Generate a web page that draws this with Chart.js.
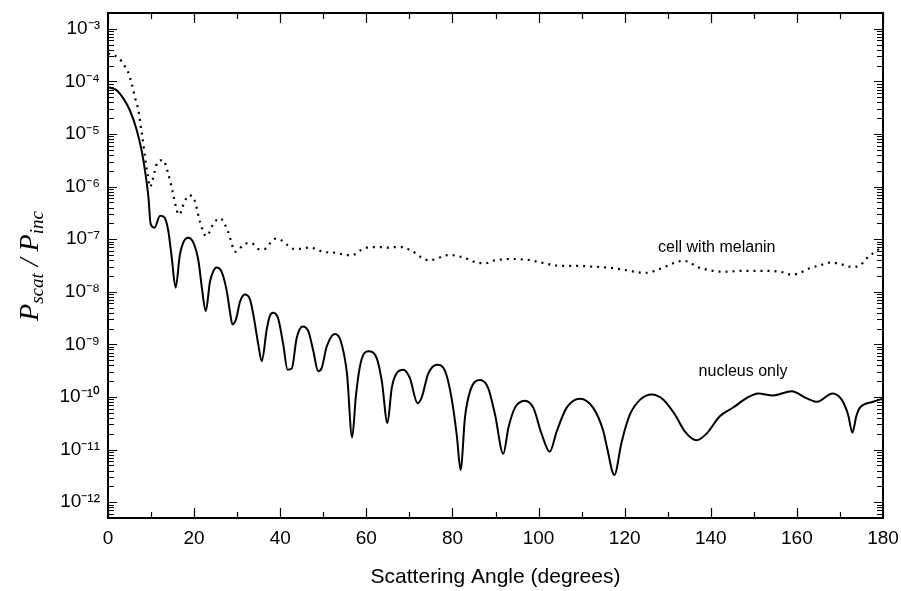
<!DOCTYPE html>
<html>
<head>
<meta charset="utf-8">
<script src="https://cdn.jsdelivr.net/npm/chart.js@4.4.1/dist/chart.umd.min.js"></script>
<style>
  html, body { margin: 0; padding: 0; background: #fff; }
  canvas { display: block; }
</style>
</head>
<body>
<canvas id="scatChart" width="901" height="591"></canvas>
<script>
// [angle (degrees), Pscat/Pinc]
const nucleusOnly = [
    [0, 7.8e-5], [1, 7.4e-5], [2, 6.8e-5], [3.6, 4.7e-5], [5.1, 2.8e-5], [6.7, 1.17e-5],
    [7.8, 4.9e-6], [8.6, 2.0e-6], [9.4, 6.2e-7], [9.9, 1.95e-7], [10.8, 1.66e-7],
    [12.1, 2.8e-7], [13.1, 2.6e-7], [14.0, 1.45e-7], [14.8, 4.5e-8], [15.7, 1.2e-8],
    [16.7, 5.1e-8], [17.5, 8.7e-8], [18.6, 1.07e-7], [19.8, 8.7e-8], [21.0, 3.9e-8],
    [21.8, 1.2e-8], [22.7, 4.3e-9], [23.7, 1.58e-8], [24.5, 2.5e-8], [25.2, 2.9e-8],
    [26.4, 2.4e-8], [27.6, 1.02e-8], [28.3, 4.3e-9], [28.9, 2.4e-9], [29.7, 2.95e-9],
    [30.7, 6.6e-9], [31.8, 8.9e-9], [33.0, 7.1e-9], [33.9, 3.16e-9], [34.9, 1.0e-9],
    [35.7, 4.8e-10], [36.9, 2.0e-9], [37.6, 3.5e-9], [38.4, 4.0e-9], [39.5, 3.16e-9],
    [40.7, 1.0e-9], [41.7, 3.3e-10], [42.7, 3.5e-10], [43.8, 1.3e-9], [45.2, 2.2e-9],
    [46.5, 1.8e-9], [47.7, 7.4e-10], [48.8, 3.1e-10], [49.6, 3.5e-10], [50.8, 9.1e-10],
    [52.7, 1.58e-9], [54.0, 1.2e-9], [55.5, 2.8e-10], [56.7, 1.7e-11], [57.6, 1.1e-10],
    [58.7, 4.5e-10], [60.5, 7.4e-10], [62.4, 5.5e-10], [63.6, 2.0e-10], [64.9, 3.2e-11],
    [65.9, 1.48e-10], [67.0, 2.8e-10], [68.6, 3.3e-10], [70.1, 2.3e-10], [71.9, 7.6e-11],
    [72.8, 9.5e-11], [74.4, 2.8e-10], [76.5, 4.1e-10], [78.3, 3.1e-10], [79.8, 9.5e-11],
    [81.0, 1.9e-11], [81.9, 4.1e-12], [82.9, 4.0e-11], [84.1, 1.29e-10], [86.4, 2.1e-10],
    [88.3, 1.48e-10], [89.9, 4.6e-11], [91.8, 8.3e-12], [93.0, 2.6e-11], [94.5, 6.2e-11],
    [96.8, 8.5e-11], [98.8, 6.2e-11], [100.7, 2.0e-11], [102.6, 9.1e-12], [104.2, 2.2e-11],
    [106.5, 6.2e-11], [109.6, 9.3e-11], [112.7, 6.2e-11], [115.0, 2.3e-11], [115.8, 1.2e-11],
    [117.6, 3.3e-12], [119.3, 1.4e-11], [121.2, 4.6e-11], [123.6, 8.9e-11], [126.3, 1.12e-10],
    [129.0, 8.9e-11], [131.7, 4.6e-11], [134.0, 2.2e-11], [136.7, 1.5e-11], [139.0, 2.0e-11],
    [142.1, 4.3e-11], [145.2, 6.3e-11], [148.3, 9.5e-11], [151.0, 1.17e-10], [154.5, 1.07e-10],
    [158.8, 1.29e-10], [162.2, 9.5e-11], [164.7, 8.1e-11], [168.3, 1.17e-10], [170.4, 8.9e-11],
    [171.9, 4.6e-11], [172.9, 2.1e-11], [173.8, 4.3e-11], [174.6, 6.2e-11], [177.7, 8.1e-11],
    [180, 9.3e-11]
];

const cellWithMelanin = [
    [0, 3.4e-4], [0.9, 3.2e-4], [2.6, 2.75e-4], [3.6, 2.1e-4], [4.6, 1.55e-4], [5.6, 8.5e-5],
    [6.4, 4.5e-5], [7.0, 3.0e-5], [7.7, 1.26e-5], [8.4, 4.9e-6], [8.7, 3.1e-6], [9.2, 1.74e-6],
    [9.75, 9.8e-7], [10.4, 1.38e-6], [11.5, 2.9e-6], [12.8, 3.2e-6], [14.0, 1.74e-6],
    [15.2, 6.8e-7], [16.0, 3.5e-7], [16.5, 2.9e-7], [17.7, 5.0e-7], [18.8, 6.8e-7],
    [20.0, 5.8e-7], [21.4, 2.1e-7], [22.8, 1.15e-7], [24.7, 2.1e-7], [26.0, 2.5e-7],
    [27.8, 1.45e-7], [29.6, 5.8e-8], [32.0, 8.3e-8], [33.4, 8.3e-8], [35.0, 6.5e-8],
    [36.3, 6.5e-8], [37.6, 8.3e-8], [38.8, 1.02e-7], [40.3, 9.5e-8], [41.8, 7.6e-8],
    [43.3, 6.5e-8], [44.9, 6.6e-8], [46.5, 6.9e-8], [48.2, 6.6e-8], [49.8, 5.8e-8],
    [51.5, 5.6e-8], [53.4, 5.5e-8], [55.0, 5.0e-8], [56.8, 5.0e-8], [58.4, 6.0e-8],
    [60.1, 6.9e-8], [61.6, 7.1e-8], [63.6, 7.1e-8], [65.1, 6.9e-8], [67.0, 7.1e-8],
    [68.4, 7.1e-8], [70.0, 6.3e-8], [71.5, 5.4e-8], [72.8, 4.5e-8], [74.4, 4.0e-8],
    [76.2, 4.2e-8], [77.9, 4.8e-8], [79.4, 5.0e-8], [81.1, 4.8e-8], [82.9, 4.4e-8],
    [84.4, 3.9e-8], [86.2, 3.5e-8], [87.9, 3.5e-8], [89.4, 3.9e-8], [91.3, 4.1e-8],
    [93.0, 4.2e-8], [94.8, 4.2e-8], [96.5, 4.1e-8], [98.2, 4.0e-8], [99.8, 3.7e-8],
    [101.5, 3.5e-8], [103.4, 3.2e-8], [106.5, 3.1e-8], [109.6, 3.1e-8], [112.7, 3.0e-8],
    [115.8, 2.9e-8], [118.9, 2.7e-8], [121.2, 2.5e-8], [123.1, 2.35e-8], [125.1, 2.3e-8],
    [127.0, 2.5e-8], [129.4, 3.0e-8], [131.7, 3.6e-8], [133.6, 3.9e-8], [135.2, 3.6e-8],
    [136.7, 3.0e-8], [138.6, 2.7e-8], [140.6, 2.5e-8], [142.9, 2.4e-8], [147.5, 2.5e-8],
    [152.2, 2.5e-8], [156.8, 2.35e-8], [158.8, 2.1e-8], [161.0, 2.35e-8], [163.0, 2.8e-8],
    [165.4, 3.2e-8], [167.7, 3.6e-8], [170.0, 3.4e-8], [172.3, 3.0e-8], [173.9, 3.0e-8],
    [175.4, 3.6e-8], [176.6, 4.7e-8], [177.4, 5.2e-8], [180, 7.4e-8]
];

const yTickValues = [1e-12, 1e-11, 1e-10, 1e-9, 1e-8, 1e-7, 1e-6, 1e-5, 1e-4, 1e-3];
const yTickLabels = ['10⁻¹²', '10⁻¹¹', '10⁻¹⁰', '10⁻⁹', '10⁻⁸', '10⁻⁷', '10⁻⁶', '10⁻⁵', '10⁻⁴', '10⁻³'];
const xMajorTicks = [0, 20, 40, 60, 80, 100, 120, 140, 160, 180];

const sans = "'Liberation Sans', Arial, Helvetica, sans-serif";
const serif = "'Liberation Serif', 'Times New Roman', serif";

function toPoints(pairs) {
    return pairs.map(p => ({ x: p[0], y: p[1] }));
}

// frame, inward ticks on all four sides, axis title and curve labels
const framePlugin = {
    id: 'framePlugin',
    afterDatasetsDraw(chart) {
        const ctx = chart.ctx;
        const a = chart.chartArea;
        const xs = chart.scales.x;
        const ys = chart.scales.y;
        ctx.save();
        ctx.strokeStyle = '#000';

        ctx.lineWidth = 1.2;
        ctx.beginPath();
        // x ticks: major every 20, minor every 10
        for (let v = 0; v <= 180; v += 10) {
            const px = Math.round(xs.getPixelForValue(v)) + 0.5;
            const len = v % 20 === 0 ? 10 : 6;
            ctx.moveTo(px, a.bottom); ctx.lineTo(px, a.bottom - len);
            ctx.moveTo(px, a.top); ctx.lineTo(px, a.top + len);
        }
        // y ticks: decades plus 2..9 minor
        for (let e = -13; e <= -3; e++) {
            for (let m = 1; m <= 9; m++) {
                const v = m * Math.pow(10, e);
                if (v < ys.min || v > ys.max) continue;
                const py = Math.round(ys.getPixelForValue(v)) + 0.5;
                const len = m === 1 ? 9 : 6;
                ctx.moveTo(a.left, py); ctx.lineTo(a.left + len, py);
                ctx.moveTo(a.right, py); ctx.lineTo(a.right - len, py);
            }
        }
        ctx.stroke();

        ctx.lineWidth = 2;
        ctx.strokeRect(a.left, a.top, a.right - a.left, a.bottom - a.top);

        // curve labels
        ctx.fillStyle = '#000';
        ctx.font = '16px ' + sans;
        ctx.textAlign = 'center';
        ctx.textBaseline = 'middle';
        ctx.fillText('cell with melanin', xs.getPixelForValue(141.4), ys.getPixelForValue(6.8e-8));
        ctx.fillText('nucleus only', xs.getPixelForValue(147.5), ys.getPixelForValue(3.0e-10));

        // y axis title: P_scat / P_inc
        const parts = [
            { t: 'P', f: 'italic 28px ' + serif, dy: 0 },
            { t: 'scat', f: 'italic 19px ' + serif, dy: 5 },
            { t: ' / ', f: 'italic 28px ' + serif, dy: 0 },
            { t: 'P', f: 'italic 28px ' + serif, dy: 0 },
            { t: 'inc', f: 'italic 19px ' + serif, dy: 5 }
        ];
        let total = 0;
        parts.forEach(p => { ctx.font = p.f; p.w = ctx.measureText(p.t).width; total += p.w; });
        ctx.translate(38, 266);
        ctx.rotate(-Math.PI / 2);
        ctx.textAlign = 'left';
        ctx.textBaseline = 'alphabetic';
        let cx = -total / 2;
        parts.forEach(p => {
            ctx.font = p.f;
            ctx.fillText(p.t, cx, p.dy);
            cx += p.w;
        });
        ctx.restore();
    }
};

const ctx = document.getElementById('scatChart').getContext('2d');
const scatChart = new Chart(ctx, {
    type: 'line',
    data: {
        datasets: [{
            label: 'nucleus only',
            data: toPoints(nucleusOnly),
            borderColor: '#000',
            borderWidth: 2,
            pointRadius: 0,
            cubicInterpolationMode: 'monotone',
            fill: false
        }, {
            label: 'cell with melanin',
            data: toPoints(cellWithMelanin),
            borderColor: '#000',
            borderWidth: 2.2,
            borderDash: [2, 5],
            pointRadius: 0,
            cubicInterpolationMode: 'monotone',
            fill: false
        }]
    },
    options: {
        responsive: false,
        animation: false,
        devicePixelRatio: 1,
        layout: { padding: { left: 0, right: 18, top: 13, bottom: 0 } },
        plugins: {
            legend: { display: false },
            tooltip: { enabled: false }
        },
        scales: {
            x: {
                type: 'linear',
                min: 0,
                max: 180,
                afterFit: s => {
                    s.height = 73;
                    s.paddingLeft = 0;
                    s.paddingRight = 0;
                },
                afterBuildTicks: s => { s.ticks = xMajorTicks.map(v => ({ value: v })); },
                grid: { display: false, drawTicks: false },
                border: { display: false },
                ticks: {
                    padding: 9,
                    color: '#000',
                    font: { family: sans, size: 19 }
                },
                title: {
                    display: true,
                    text: 'Scattering Angle (degrees)',
                    color: '#000',
                    font: { family: sans, size: 21 },
                    padding: { top: 0, bottom: 1 }
                }
            },
            y: {
                type: 'logarithmic',
                min: 5e-13,
                max: 2e-3,
                afterFit: s => {
                    s.width = 108;
                    s.paddingTop = 0;
                    s.paddingBottom = 0;
                },
                afterBuildTicks: s => { s.ticks = yTickValues.map(v => ({ value: v })); },
                grid: { display: false, drawTicks: false },
                border: { display: false },
                ticks: {
                    padding: 8,
                    color: '#000',
                    font: { family: sans, size: 19 },
                    callback: (v, i) => yTickLabels[i]
                }
            }
        }
    },
    plugins: [framePlugin]
});
</script>
</body>
</html>
